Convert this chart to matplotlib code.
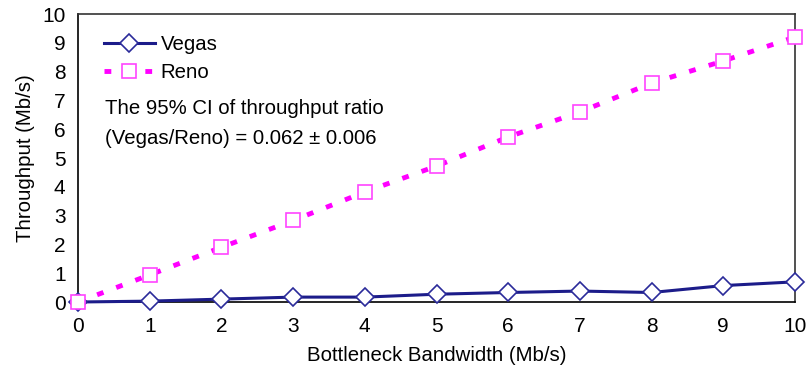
import numpy as np
import matplotlib
import matplotlib.pyplot as plt

matplotlib.rcParams.update({'font.family': 'Liberation Sans', 'font.size': 14.7})

bandwidth = [0, 1, 2, 3, 4, 5, 6, 7, 8, 9, 10]
vegas = [0.0, 0.03, 0.1, 0.17, 0.17, 0.27, 0.33, 0.38, 0.33, 0.57, 0.7]
reno = [0.0, 0.94, 1.9, 2.83, 3.82, 4.72, 5.73, 6.6, 7.6, 8.37, 9.2]
note = 'The 95% CI of throughput ratio\n(Vegas/Reno) = 0.062 \u00b1 0.006'

fig = plt.figure(figsize=(8.08, 3.72), dpi=100)
ax = fig.add_axes([78/808, 1 - 302/372, (795-78)/808, (302-14)/372])

ax.plot(bandwidth, vegas, color='#1c1c8a', lw=2.2, marker='D', ms=9,
        mfc='white', mec='#2a2a9a', mew=1.2, label='Vegas', clip_on=False, zorder=3)
ax.plot(bandwidth, reno, color='#ff00ff', lw=3.5, ls=(0, (1.4, 2.8)), marker='s', ms=10,
        mfc='white', mec='#ff44ff', mew=1.2, label='Reno', clip_on=False, zorder=3)

ax.set_xlim(0, 10)
ax.set_ylim(0, 10)
ax.set_xticks(range(0, 11))
ax.set_yticks(range(0, 11))
ax.tick_params(length=0, labelsize=15)
ax.tick_params(axis='x', pad=11)
ax.tick_params(axis='y', pad=9)
for s in ax.spines.values():
    s.set_linewidth(1.2)
    s.set_color('#333333')
ax.spines['left'].set_color('black')
ax.spines['bottom'].set_color('black')

ax.set_xlabel('Bottleneck Bandwidth (Mb/s)', labelpad=7)
ax.set_ylabel('Throughput (Mb/s)', labelpad=5)

ax.legend(loc='upper left', bbox_to_anchor=(0.01, 0.99), frameon=False,
          handlelength=2.5, handletextpad=0.3, labelspacing=0.45,
          borderaxespad=0.6, borderpad=0.3)
ax.text(0.037, 0.62, note, transform=ax.transAxes, va='center', ha='left',
        linespacing=1.75)

fig.savefig('out.png', dpi=100)
